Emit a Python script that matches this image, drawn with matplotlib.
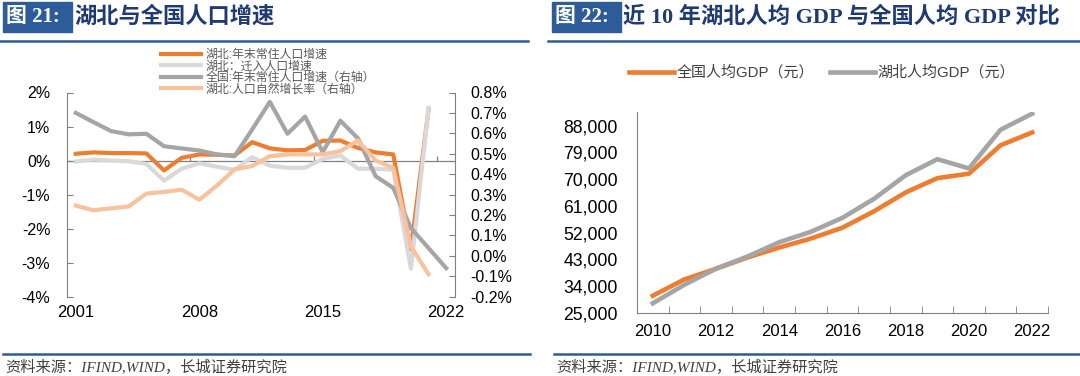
import matplotlib
matplotlib.use('Agg')
import matplotlib.pyplot as plt
from matplotlib.lines import Line2D
from matplotlib.patches import Rectangle
from matplotlib.ticker import FuncFormatter, FixedLocator
import numpy as np

plt.rcParams['font.family'] = ['Liberation Sans', 'Noto Sans CJK SC']

# ---- 图21 数据 ----
years_l = list(range(2001, 2023))
hb_pop = [0.20, 0.24, 0.22, 0.22, 0.21, -0.29, 0.08, 0.18, 0.17, 0.15, 0.54,
          0.36, 0.30, 0.31, 0.58, 0.59, 0.37, 0.24, 0.18, -2.60, 1.50]
hb_mig = [-0.03, 0.03, 0.00, -0.02, -0.10, -0.59, -0.24, -0.08, -0.18, -0.27, 0.10,
          -0.15, -0.21, -0.21, 0.05, 0.15, -0.24, -0.24, -0.27, -3.18, 1.55]
cn_pop = [0.700, 0.655, 0.611, 0.595, 0.598, 0.537, 0.526, 0.516, 0.497, 0.488, 0.619,
          0.754, 0.598, 0.682, 0.508, 0.662, 0.575, 0.390, 0.333, 0.136, 0.038, -0.060]
hb_nat = [0.246, 0.223, 0.233, 0.242, 0.305, 0.313, 0.324, 0.275, 0.344, 0.423, 0.440,
          0.488, 0.497, 0.497, 0.497, 0.513, 0.565, 0.467, 0.431, 0.046, -0.090]
xticks_l = [2001, 2008, 2015, 2022]

# ---- 图22 数据 ----
years_r = list(range(2010, 2023))
cn_gdp = [30808, 36302, 39874, 43684, 47005, 50028, 53680, 59201, 65534, 70328, 71828, 81370, 85698]
hb_gdp = [28250, 34500, 39900, 44000, 48800, 52300, 57000, 63400, 71300, 76700, 73600, 86600, 92000]
yticks_r = list(range(25000, 88001, 9000))

ORANGE = '#ED7D31'
LGRAY = '#D9D9D9'
GRAY = '#A5A5A5'
LORANGE = '#F8C29C'
AXC = '#808080'
BLUE = '#2E5C9A'
NAVY = '#1F3A73'

W, H = 1080, 376
fig = plt.figure(figsize=(W / 100, H / 100), dpi=100)


def fx(px):
    return px / W


def fy(py):
    return 1 - py / H


serif_cjk = ['Liberation Serif', 'Noto Sans CJK SC']

# 标题栏
for x0, x1, num, title in [(3, 72, '图 21:', '湖北与全国人口增速'),
                           (552, 621, '图 22:', '近 10 年湖北人均 GDP 与全国人均 GDP 对比')]:
    fig.patches.append(Rectangle((fx(x0), fy(31.5)), fx(x1 - x0), 29 / H,
                                 transform=fig.transFigure, color=BLUE, zorder=0))
    fig.text(fx(x0 + 3), fy(17), num, color='white', fontsize=15, fontweight='bold',
             family=serif_cjk, va='center', ha='left')
    fig.text(fx(x1 + 2), fy(17), title, color=NAVY, fontsize=16, fontweight='bold',
             family=serif_cjk, va='center', ha='left')

for x0, x1 in [(0, 528), (548, 1080)]:
    fig.add_artist(Line2D([fx(x0), fx(x1)], [fy(41), fy(41)], color=BLUE, lw=1.8))
for x0, x1 in [(3, 530), (554, 1080)]:
    fig.add_artist(Line2D([fx(x0), fx(x1)], [fy(354), fy(354)], color=BLUE, lw=1.8))
for x0 in [5, 556]:
    fig.text(fx(x0), fy(367), '资料来源：IFIND,WIND，长城证券研究院', fontsize=11,
             style='italic', family=serif_cjk, color='#404040', va='center', ha='left')

# ---- 左图 ----
ax1 = fig.add_axes([fx(67), fy(296.7), fx(455 - 67), (296.7 - 92.5) / H])
ax2 = ax1.twinx()
ax1.set_xlim(2000.5, 2022.5)
ax1.set_ylim(-4, 2)
ax2.set_ylim(-0.2, 0.8)

ax1.axhline(0, color=AXC, lw=0.9, zorder=0.5)
ax1.vlines([2007.5, 2014.5, 2021.5], 0, 0.12, color=AXC, lw=0.9)

l1, = ax1.plot(years_l[:len(hb_pop)], hb_pop, color=ORANGE, lw=3)
l2, = ax1.plot(years_l[:len(hb_mig)], hb_mig, color=LGRAY, lw=3)
l3, = ax2.plot(years_l, cn_pop, color=GRAY, lw=3)
l4, = ax2.plot(years_l[:len(hb_nat)], hb_nat, color=LORANGE, lw=3)

ax1.set_yticks(np.arange(-4, 2.01, 1))
ax1.yaxis.set_major_formatter(FuncFormatter(lambda v, p: f'{v:.0f}%'))
ax2.set_yticks(np.arange(-0.2, 0.801, 0.1))
ax2.yaxis.set_major_formatter(FuncFormatter(lambda v, p: f'{v:.1f}%'))
ax1.set_xticks(xticks_l)
ax1.tick_params(axis='x', length=0, labelsize=12, pad=6)
ax1.tick_params(axis='y', direction='in', length=4, color=AXC, labelsize=11.5, pad=12)
ax2.tick_params(axis='y', direction='in', length=4, color=AXC, labelsize=11.5, pad=11)
for a in (ax1, ax2):
    for s in ['top', 'bottom']:
        a.spines[s].set_visible(False)
ax1.spines['right'].set_visible(False)
ax2.spines['left'].set_visible(False)
ax1.spines['left'].set_color(AXC)
ax2.spines['right'].set_color(AXC)

fig.legend([l1, l2, l3, l4],
           ['湖北:年末常住人口增速', '湖北：迁入人口增速', '全国:年末常住人口增速（右轴）',
            '湖北:人口自然增长率（右轴）'],
           loc='upper left', bbox_to_anchor=(fx(161), fy(49)), frameon=False,
           fontsize=8.6, labelcolor='#595959', handlelength=3.35, handletextpad=0.4,
           labelspacing=-0.04, borderpad=0, borderaxespad=0)

# ---- 右图 ----
ax3 = fig.add_axes([fx(637), fy(313), fx(1048 - 637), (313 - 111.6) / H])
ax3.plot(years_r, cn_gdp, color=ORANGE, lw=3.3, label='全国人均GDP（元）')
ax3.plot(years_r, hb_gdp, color=GRAY, lw=3.3, label='湖北人均GDP（元）')
ax3.set_xlim(2009.5, 2022.5)
ax3.set_ylim(25000, 92700)
ax3.set_yticks(yticks_r)
ax3.yaxis.set_major_formatter(FuncFormatter(lambda v, p: f'{v:,.0f}'))
ax3.set_xticks(years_r[::2])
ax3.xaxis.set_minor_locator(FixedLocator(np.arange(2009.5, 2023, 1)))
ax3.tick_params(axis='x', which='major', length=0, labelsize=12, pad=8)
ax3.tick_params(axis='x', which='minor', direction='in', length=5, color=AXC)
ax3.tick_params(axis='y', length=0, labelsize=12.7, pad=14)
for s in ['top', 'right']:
    ax3.spines[s].set_visible(False)
for s in ['left', 'bottom']:
    ax3.spines[s].set_color(AXC)
fig.legend(*ax3.get_legend_handles_labels(), loc='center',
           bbox_to_anchor=(fx(822), fy(72.5)), frameon=False, ncol=2, fontsize=10.8,
           labelcolor='#404040', handlelength=3, handletextpad=0.2, columnspacing=1.0,
           borderpad=0)

fig.savefig('out.png', dpi=100)
